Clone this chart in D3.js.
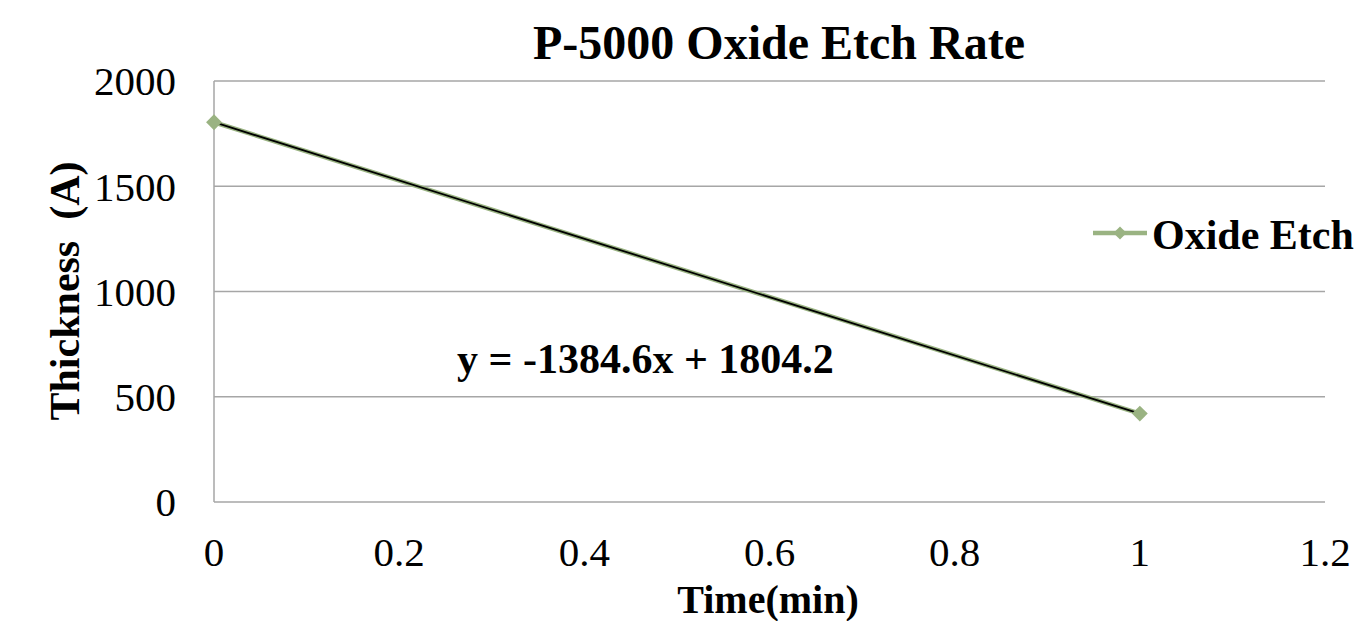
<!DOCTYPE html>
<html>
<head>
<meta charset="utf-8">
<script src="https://d3js.org/d3.v7.min.js"></script>
<style>
  html, body { margin: 0; padding: 0; background: #fff; }
  svg { display: block; }
  text { font-family: "Liberation Serif", "Times New Roman", serif; fill: #000; }
</style>
</head>
<body>
<script>
// ---- data ----
const times = [0, 1];
const thickness = [1804, 420];
const xTicks = [0, 0.2, 0.4, 0.6, 0.8, 1, 1.2];
const yTicks = [0, 500, 1000, 1500, 2000];
const seriesName = "Oxide Etch";
const chartTitle = "P-5000 Oxide Etch Rate";
const xTitle = "Time(min)";
const yTitle = "Thickness  (A)";
const trendSlope = -1384.6;
const trendIntercept = 1804.2;
const trendLabel = "y = -1384.6x + 1804.2";

const W = 1354, H = 621;
const svg = d3.select("body").append("svg").attr("width", W).attr("height", H);

const x = d3.scaleLinear().domain([0, 1.2]).range([214, 1325]);
const y = d3.scaleLinear().domain([0, 2000]).range([502, 81]);

const green = "#9ab382";
const grid = "#a6a6a6";

// gridlines
svg.append("g").selectAll("line").data(yTicks).join("line")
  .attr("x1", x(0)).attr("x2", x(1.2))
  .attr("y1", d => y(d)).attr("y2", d => y(d))
  .attr("stroke", grid).attr("stroke-width", 1.5);

// y axis line
svg.append("line").attr("x1", x(0)).attr("x2", x(0))
  .attr("y1", y(2000)).attr("y2", y(0))
  .attr("stroke", grid).attr("stroke-width", 1.5);

// y tick labels
svg.append("g").selectAll("text").data(yTicks).join("text")
  .attr("x", 176).attr("y", d => y(d))
  .attr("dy", "0.35em")
  .attr("text-anchor", "end")
  .style("font-size", "41px")
  .text(d => d);

// x tick labels
svg.append("g").selectAll("text").data(xTicks).join("text")
  .attr("x", d => x(d)).attr("y", 566)
  .attr("text-anchor", "middle")
  .style("font-size", "41px")
  .text(d => d);

// series line
const pts = times.map((t, i) => [t, thickness[i]]);
svg.append("path").datum(pts)
  .attr("d", d3.line().x(d => x(d[0])).y(d => y(d[1])))
  .attr("fill", "none").attr("stroke", green).attr("stroke-width", 4.5);

// trendline
const trendPts = times.map(t => [t, trendIntercept + trendSlope * t]);
svg.append("path").datum(trendPts)
  .attr("d", d3.line().x(d => x(d[0])).y(d => y(d[1])))
  .attr("fill", "none").attr("stroke", "#000").attr("stroke-width", 1.8);

// markers
const diamond = d3.symbol().type(d3.symbolDiamond2).size(160);
svg.append("g").selectAll("path").data(pts).join("path")
  .attr("transform", d => `translate(${x(d[0])},${y(d[1])})`)
  .attr("d", diamond).attr("fill", green);

// trend label
svg.append("text").attr("x", 457).attr("y", 373)
  .style("font-size", "42px").style("font-weight", "bold")
  .text(trendLabel);

// title
svg.append("text").attr("x", 779).attr("y", 59)
  .attr("text-anchor", "middle")
  .style("font-size", "48px").style("font-weight", "bold")
  .text(chartTitle);

// x title
svg.append("text").attr("x", 768).attr("y", 613)
  .attr("text-anchor", "middle")
  .style("font-size", "40px").style("font-weight", "bold")
  .text(xTitle);

// y title
svg.append("text")
  .attr("transform", "translate(79,291) rotate(-90)")
  .attr("text-anchor", "middle")
  .style("font-size", "42px").style("font-weight", "bold")
  .style("white-space", "pre")
  .text(yTitle);

// legend
const lg = svg.append("g");
lg.append("line").attr("x1", 1093).attr("x2", 1147).attr("y1", 233).attr("y2", 233)
  .attr("stroke", green).attr("stroke-width", 4.5);
lg.append("path").attr("transform", "translate(1120,233)")
  .attr("d", d3.symbol().type(d3.symbolDiamond2).size(110)).attr("fill", green);
lg.append("text").attr("x", 1152).attr("y", 249)
  .style("font-size", "42px").style("font-weight", "bold")
  .text(seriesName);
</script>
</body>
</html>
